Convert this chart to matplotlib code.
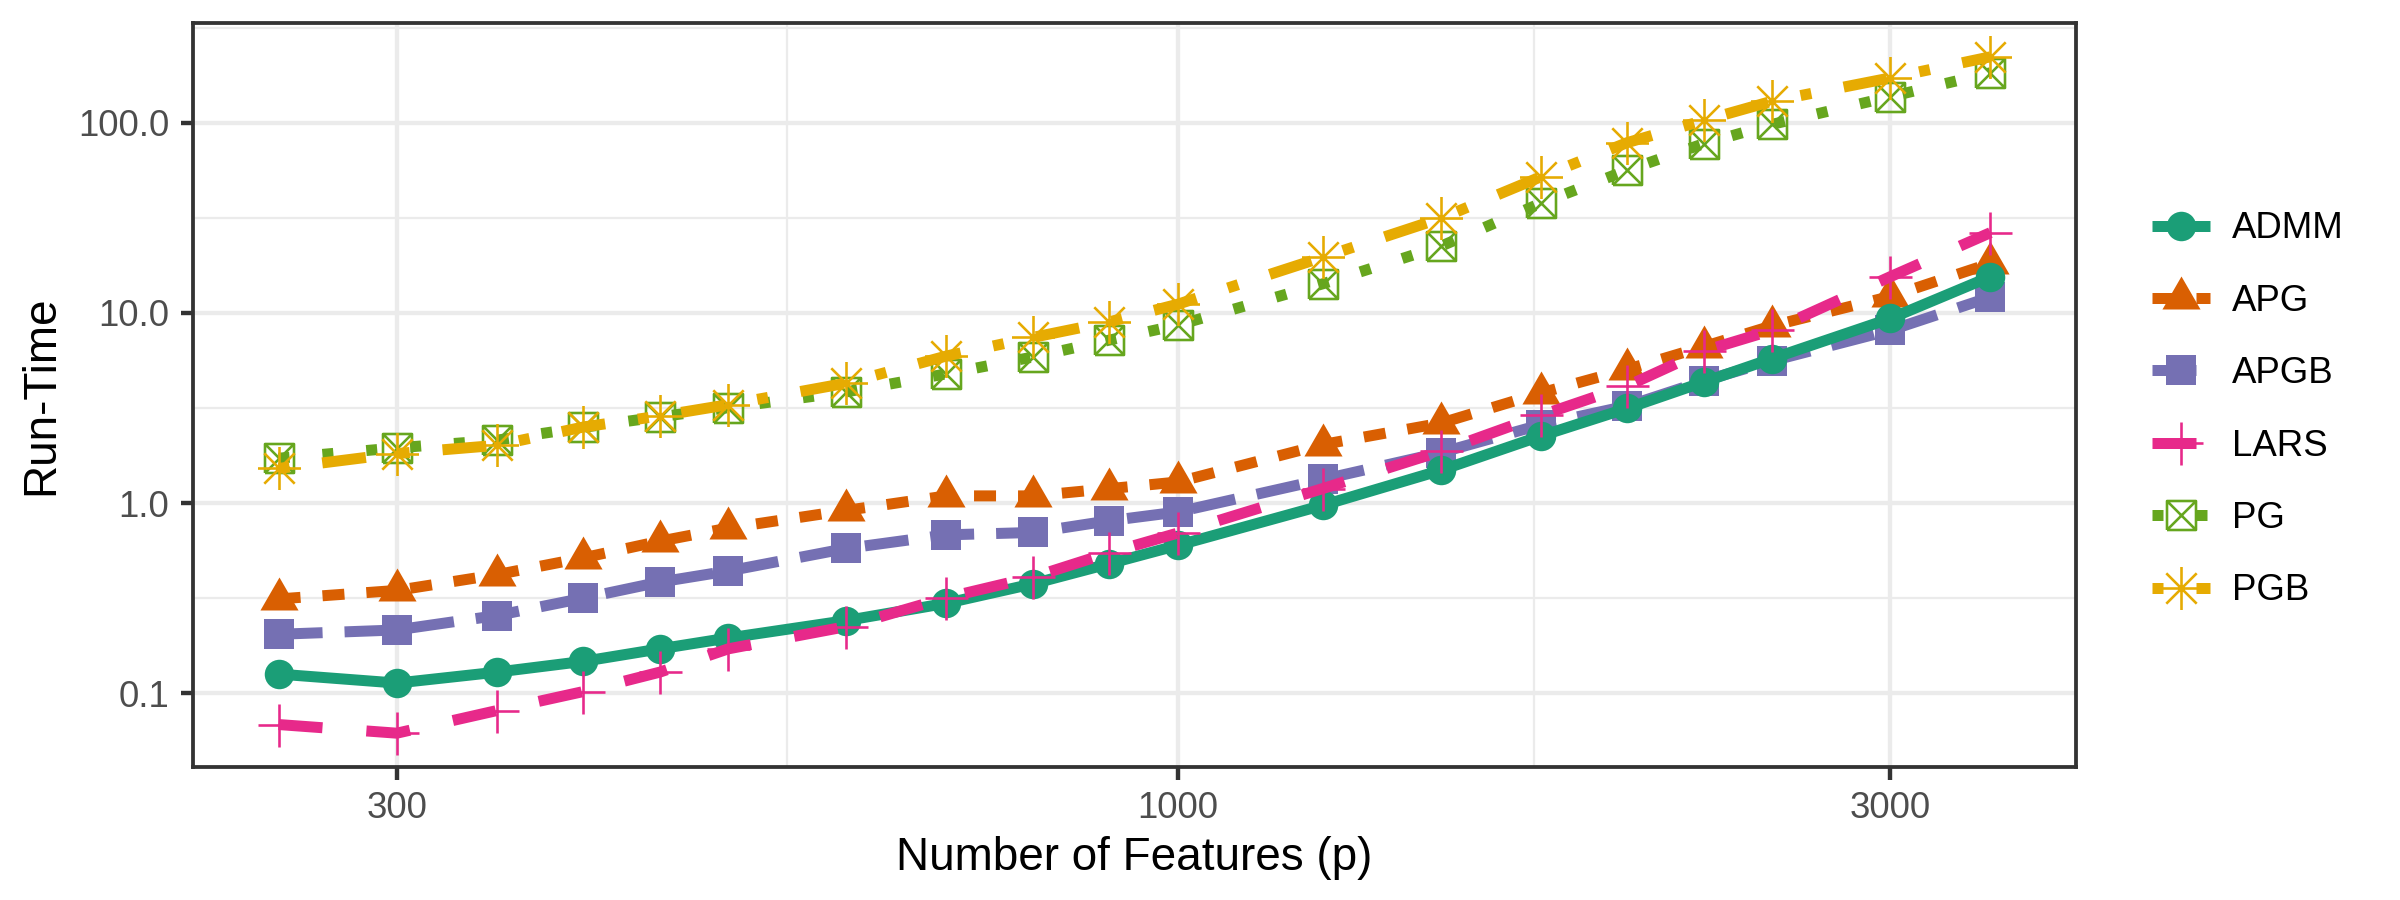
import numpy as np
import matplotlib
matplotlib.use("Agg")
import matplotlib.pyplot as plt
from matplotlib.path import Path
from matplotlib.lines import Line2D
from matplotlib.ticker import FixedLocator, FixedFormatter, NullFormatter

# ---------------- data ----------------
p_values = [250, 300, 350, 400, 450, 500, 600, 700, 800, 900, 1000,
            1250, 1500, 1750, 2000, 2250, 2500, 3000, 3500]

admm = [0.126, 0.113, 0.129, 0.147, 0.171, 0.195, 0.241, 0.297, 0.376, 0.480,
        0.599, 0.972, 1.486, 2.25, 3.15, 4.33, 5.75, 9.34, 15.5]
apg = [0.313, 0.347, 0.420, 0.515, 0.630, 0.738, 0.915, 1.09, 1.09, 1.19,
       1.29, 2.03, 2.63, 3.79, 5.05, 6.65, 8.55, 12.2, 18.2]
apgb = [0.204, 0.215, 0.256, 0.316, 0.384, 0.439, 0.577, 0.680, 0.700, 0.807,
        0.897, 1.33, 1.84, 2.58, 3.24, 4.39, 5.59, 8.10, 12.1]
lars = [0.0684, 0.0616, 0.081, 0.102, 0.129, 0.171, 0.224, 0.318, 0.408, 0.548,
        0.695, 1.19, 1.87, 2.89, 4.13, 6.31, 8.10, 15.5, 26.4]
pg = [1.72, 1.95, 2.14, 2.50, 2.84, 3.17, 3.84, 4.78, 5.86, 7.19,
      8.62, 14.2, 22.4, 37.7, 56.3, 77.6, 98.0, 137.0, 183.0]
pgb = [1.52, 1.82, 2.01, 2.51, 2.87, 3.29, 4.27, 5.93, 7.43, 8.97,
       11.1, 19.6, 31.4, 51.9, 78.6, 102.8, 129.8, 172.0, 222.0]

methods = ["ADMM", "APG", "APGB", "LARS", "PG", "PGB"]
x_ticks = [300, 1000, 3000]
x_tick_labels = ["300", "1000", "3000"]
y_ticks = [0.1, 1.0, 10.0, 100.0]
y_tick_labels = ["0.1", "1.0", "10.0", "100.0"]
x_title = "Number of Features (p)"
y_title = "Run-Time"

# ---------------- style ----------------
plt.rcParams['font.family'] = ['Liberation Sans', 'DejaVu Sans']
DPI = 300
W, H = 2400, 900


def px(v):
    return v * 72.0 / DPI


colors = {"ADMM": "#1B9E77", "APG": "#D95F02", "APGB": "#7570B3",
          "LARS": "#E7298A", "PG": "#66A61E", "PGB": "#E6AB02"}
dashes = {"ADMM": "solid", "APG": (0, (2, 2)), "APGB": (0, (4, 2)),
          "LARS": (0, (4, 4)), "PG": (0, (1, 3)), "PGB": (0, (1, 3, 4, 3))}

tri_path = Path([(0, 1), (0.866, -0.5), (-0.866, -0.5), (0, 1)],
                [Path.MOVETO, Path.LINETO, Path.LINETO, Path.CLOSEPOLY])
boxx_path = Path([(-1, -1), (1, -1), (1, 1), (-1, 1), (-1, -1),
                  (-1, -1), (1, 1), (-1, 1), (1, -1)],
                 [Path.MOVETO, Path.LINETO, Path.LINETO, Path.LINETO, Path.LINETO,
                  Path.MOVETO, Path.LINETO, Path.MOVETO, Path.LINETO])
d = 0.7071
ast_path = Path([(-1, 0), (1, 0), (0, -1), (0, 1), (-d, -d), (d, d), (-d, d), (d, -d)],
                [Path.MOVETO, Path.LINETO] * 4)

mstyle = {
    "ADMM": dict(marker="o", markersize=px(29.5), markeredgewidth=0, markerfacecolor=colors["ADMM"]),
    "APG": dict(marker=tri_path, markersize=px(44), markeredgewidth=0, markerfacecolor=colors["APG"]),
    "APGB": dict(marker="s", markersize=px(30), markeredgewidth=0, markerfacecolor=colors["APGB"]),
    "LARS": dict(marker="+", markersize=px(43), markeredgewidth=px(2.6), markeredgecolor=colors["LARS"]),
    "PG": dict(marker=boxx_path, markersize=px(29), markeredgewidth=px(2.6),
               markeredgecolor=colors["PG"], markerfacecolor="none"),
    "PGB": dict(marker=ast_path, markersize=px(43), markeredgewidth=px(2.6),
                markeredgecolor=colors["PGB"], markerfacecolor="none"),
}
LW = px(11)

series = {"ADMM": admm, "APG": apg, "APGB": apgb, "LARS": lars, "PG": pg, "PGB": pgb}

fig = plt.figure(figsize=(W / DPI, H / DPI), dpi=DPI)
left, right, top, bottom = 193, 2076, 23, 767
ax = fig.add_axes([left / W, 1 - bottom / H, (right - left) / W, (bottom - top) / H])
ax.set_xscale("log")
ax.set_yscale("log")

draw_order = ["PG", "PGB", "APG", "APGB", "ADMM", "LARS"]
for z, m in enumerate(draw_order):
    ax.plot(p_values, series[m], color=colors[m], linestyle=dashes[m], linewidth=LW,
            dash_capstyle="butt", solid_capstyle="butt", zorder=3 + z, **mstyle[m])

# limits: ggplot-style 5% expansion in log space
lx = np.log10(p_values)
allv = np.log10(np.concatenate([np.asarray(v, float) for v in series.values()]))
ex = 0.05 * (lx.max() - lx.min())
ey = 0.05 * (allv.max() - allv.min())
ax.set_xlim(10 ** (lx.min() - ex), 10 ** (lx.max() + ex))
ax.set_ylim(10 ** (allv.min() - ey), 10 ** (allv.max() + ey))

# ticks
ax.xaxis.set_major_locator(FixedLocator(x_ticks))
ax.xaxis.set_major_formatter(FixedFormatter(x_tick_labels))
ax.yaxis.set_major_locator(FixedLocator(y_ticks))
ax.yaxis.set_major_formatter(FixedFormatter(y_tick_labels))
xminor = [np.sqrt(x_ticks[i] * x_ticks[i + 1]) for i in range(len(x_ticks) - 1)]
yminor = [np.sqrt(y_ticks[i] * y_ticks[i + 1]) for i in range(len(y_ticks) - 1)] + [y_ticks[-1] * np.sqrt(10)]
ax.xaxis.set_minor_locator(FixedLocator(xminor))
ax.yaxis.set_minor_locator(FixedLocator(yminor))
ax.xaxis.set_minor_formatter(NullFormatter())
ax.yaxis.set_minor_formatter(NullFormatter())

grey20 = "#333333"
ax.tick_params(which="major", length=px(12.5), width=px(4.4), color=grey20,
               labelsize=8.8, labelcolor="#4D4D4D")
ax.tick_params(axis="x", which="major", pad=2.8)
ax.tick_params(axis="y", which="major", pad=2.7)
ax.tick_params(which="minor", length=0)

ax.grid(True, which="major", color="#EBEBEB", linewidth=px(4.4))
ax.grid(True, which="minor", color="#EBEBEB", linewidth=px(2.2))
ax.set_axisbelow(True)
for s in ax.spines.values():
    s.set_color(grey20)
    s.set_linewidth(px(3.8))
    s.set_zorder(20)

ax.set_xlabel(x_title, fontsize=11, color="black", labelpad=2.3)
ax.set_ylabel(y_title, fontsize=11, color="black", labelpad=3.5)

# legend
handles = [Line2D([], [], color=colors[m], linestyle=dashes[m], linewidth=LW,
                  dash_capstyle="butt", solid_capstyle="butt", **mstyle[m]) for m in methods]
fig.legend(handles, methods, loc="center left", bbox_to_anchor=(2152 / W, 1 - 410 / H),
           frameon=False, fontsize=8.8, handlelength=1.58, handletextpad=0.6,
           labelspacing=1.02, borderpad=0, borderaxespad=0, numpoints=1)

fig.savefig("out.png", dpi=DPI, facecolor="white")
